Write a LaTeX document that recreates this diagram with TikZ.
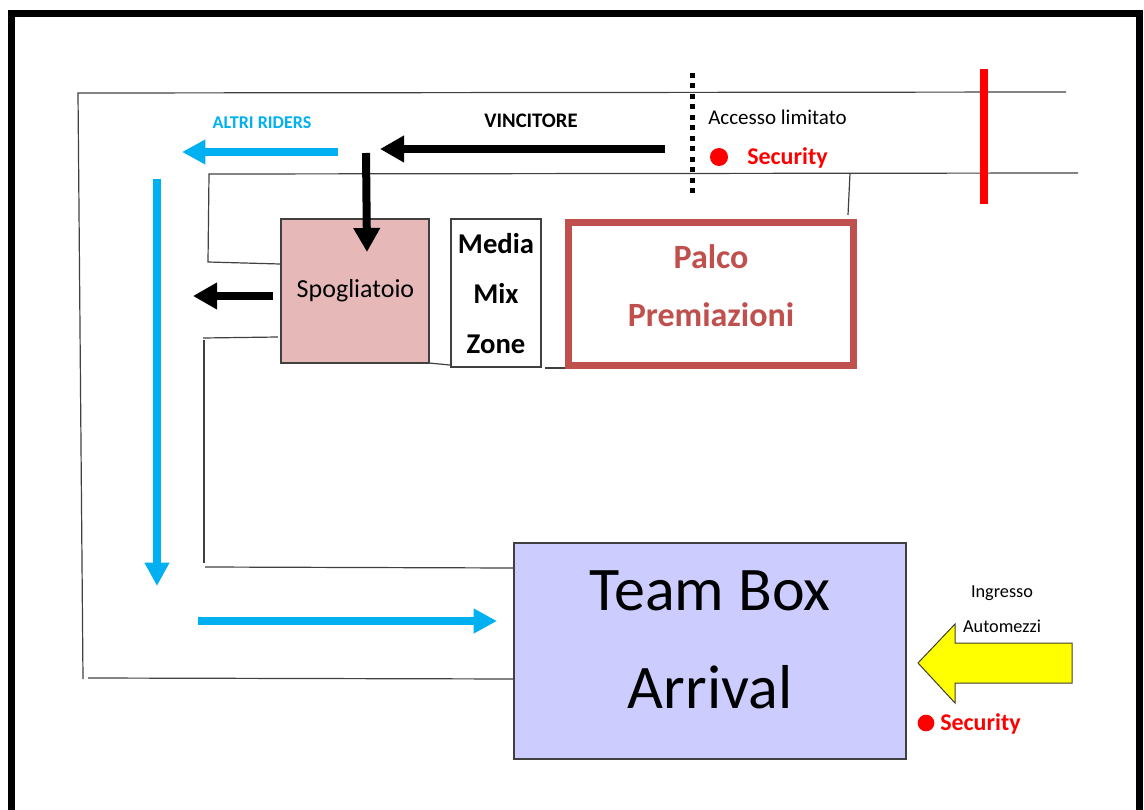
\documentclass[tikz,border=0pt]{standalone}
\usepackage{fontspec}
\setmainfont{Carlito}
\usetikzlibrary{arrows.meta}
\definecolor{pinkbox}{HTML}{E6B9B8}
\definecolor{teambox}{HTML}{CCCCFF}
\definecolor{palcored}{HTML}{C0504D}
\definecolor{riderblue}{HTML}{00B0F0}
\definecolor{secred}{HTML}{FF0000}
\definecolor{autoyellow}{HTML}{FFFF00}
\tikzset{
  road/.style={draw=black!75, line width=0.9pt},
  boxline/.style={draw=black!75, line width=1.1pt},
  blackarrow/.style={draw=black, line width=6pt, -{Triangle[length=18pt,width=19pt]}},
  bluearrow/.style={draw=riderblue, line width=6pt, -{Triangle[length=17.5pt,width=17.5pt]}},
  txt/.style={inner sep=0pt, anchor=base},
}
\begin{document}
\begin{tikzpicture}[x=0.75pt,y=-0.75pt]
\useasboundingbox (0,0) rectangle (1144,809);
% outer frame (open at the bottom)
\draw[line width=5.25pt] (11.5,830) -- (11.5,13.5) -- (1139.5,13.5) -- (1139.5,830);

% road outlines
\draw[road] (1066,92) -- (78,93) -- (83,679);
\draw[road] (88,678) -- (521,679);
\draw[road] (1078,173) -- (209,174) -- (208,262) -- (280,264);
\draw[road] (278,337) -- (203,338);
\draw[road] (204,340) -- (204,563);
\draw[road] (205,567) -- (513,568);
\draw[road] (850,173) -- (848,215);
\draw[road] (429,363) -- (460,366);
\draw[road] (545,368) -- (570,368);

% boxes
\node[boxline, fill=pinkbox, minimum width=111pt, minimum height=108pt, inner sep=0pt] (spo) at (355,291) {};
\node[boxline, fill=white, minimum width=67.5pt, minimum height=111pt, inner sep=0pt] (media) at (496,293) {};
\node[draw=palcored, line width=5.25pt, fill=white, minimum width=213.4pt, minimum height=107.6pt, inner sep=0pt] (palco) at (710.75,294.25) {};
\node[boxline, fill=teambox, minimum width=294pt, minimum height=162pt, inner sep=0pt] (team) at (710,651) {};

% texts in boxes
\node[txt, font=\fontsize{19.5pt}{23pt}\selectfont] (spotxt) at (355.5,297) {Spogliatoio};
\node[txt, font=\bfseries\fontsize{21.5pt}{25pt}\selectfont] (m1) at (496,253) {Media};
\node[txt, font=\bfseries\fontsize{21.5pt}{25pt}\selectfont] (m2) at (496,303) {Mix};
\node[txt, font=\bfseries\fontsize{21.5pt}{25pt}\selectfont] (m3) at (496,353) {Zone};
\node[txt, text=palcored, font=\bfseries\fontsize{25.5pt}{30pt}\selectfont] (p1) at (711,268) {Palco};
\node[txt, text=palcored, font=\bfseries\fontsize{25.5pt}{30pt}\selectfont] (p2) at (711,326) {Premiazioni};
\node[txt, font=\fontsize{46.5pt}{54pt}\selectfont] (t1) at (710,610) {Team Box};
\node[txt, font=\fontsize{46.5pt}{54pt}\selectfont] (t2) at (710,708) {Arrival};

% labels
\node[txt, font=\bfseries\fontsize{15.5pt}{18pt}\selectfont] (vinc) at (531,128) {VINCITORE};
\node[txt, text=riderblue, font=\bfseries\fontsize{13.5pt}{16pt}\selectfont] (altri) at (262,129) {ALTRI RIDERS};
\node[txt, font=\fontsize{15.75pt}{18pt}\selectfont] (acc) at (777.5,125) {Accesso limitato};
\node[txt, anchor=base west, text=secred, font=\bfseries\fontsize{18pt}{21pt}\selectfont] (sec1) at (747,165) {Security};
\node[txt, font=\fontsize{13.7pt}{16pt}\selectfont] (ingr) at (1002,597) {Ingresso};
\node[txt, font=\fontsize{13.7pt}{16pt}\selectfont] (auto) at (1002,632) {Automezzi};
\node[txt, anchor=base west, text=secred, font=\bfseries\fontsize{18pt}{21pt}\selectfont] (sec2) at (940,730) {Security};

% security dots
\node[circle, fill=secred, minimum size=13.5pt, inner sep=0pt] (dot1) at (719,157) {};
\node[circle, fill=secred, minimum size=12.5pt, inner sep=0pt] (dot2) at (926,723) {};

% dotted limit and red barrier
\coordinate (dtop) at (692,73);
\coordinate (dbot) at (692,197);
\draw[line width=3.75pt, dash pattern=on 3.75pt off 4.1pt] (dtop) -- (dbot);
\coordinate (rtop) at (984,69);
\coordinate (rbot) at (984,204);
\draw[secred, line width=6pt] (rtop) -- (rbot);

% black arrows
\coordinate (va) at (665,149);
\coordinate (vb) at (380,149);
\draw[blackarrow] (va) -- (vb);
\coordinate (da) at (366,153);
\coordinate (db) at (367,252);
\draw[blackarrow] (da) -- (db);
\coordinate (la) at (273,296);
\coordinate (lb) at (193,296);
\draw[blackarrow] (la) -- (lb);

% blue arrows
\coordinate (ba) at (338,152);
\coordinate (bb) at (182,152);
\draw[bluearrow] (ba) -- (bb);
\coordinate (bc) at (157,179);
\coordinate (bd) at (157,586);
\draw[bluearrow] (bc) -- (bd);
\coordinate (be) at (198,621);
\coordinate (bf) at (497,621);
\draw[bluearrow] (be) -- (bf);

% yellow block arrow (Ingresso Automezzi)
\draw[draw=black!70!olive, line width=0.75pt, fill=autoyellow]
  (918,663) -- (955,624) -- (955,643) -- (1072,643) -- (1072,683) -- (955,683) -- (955,703) -- cycle;
\end{tikzpicture}
\end{document}
